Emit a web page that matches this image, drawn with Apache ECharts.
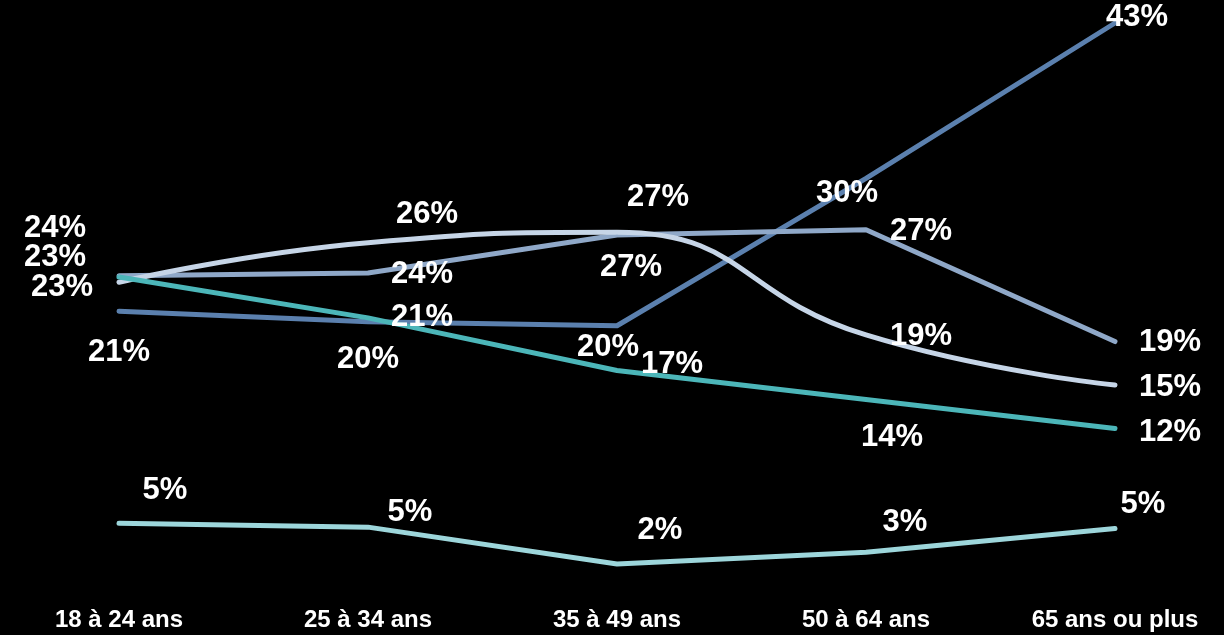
<!DOCTYPE html>
<html>
<head>
<meta charset="utf-8">
<script src="https://cdn.jsdelivr.net/npm/echarts@6/dist/echarts.min.js"></script>
<style>
html, body { margin: 0; padding: 0; background: #000; }
#chart { width: 1224px; height: 635px; }
</style>
</head>
<body>
<div id="chart"></div>
<script>
// catégories d'âge
var categories = ['18 à 24 ans', '25 à 34 ans', '35 à 49 ans', '50 à 64 ans', '65 ans ou plus'];

// valeurs tracées
var serie1 = [21.1, 20.3, 20.0, 31.2, 43.0];
var serie2 = [23.8, 24.0, 26.9, 27.3, 18.8];
var serie3 = [23.3, 26.3, 27.1, 19.3, 15.5];
var serie4 = [23.7, 20.6, 16.6, 14.4, 12.2];
var serie5 = [5.0, 4.7, 1.9, 2.8, 4.6];

// étiquettes affichées
var labels1 = ['21%', '20%', '20%', '30%', '43%'];
var labels2 = ['23%', '24%', '27%', '27%', '19%'];
var labels3 = ['23%', '26%', '27%', '19%', '15%'];
var labels4 = ['24%', '21%', '17%', '14%', '12%'];
var labels5 = ['5%', '5%', '2%', '3%', '5%'];

var chart = echarts.init(document.getElementById('chart'));

function makeSerie(name, values, texts, color, offsets, smooth) {
    return {
        name: name,
        type: 'line',
        smooth: smooth ? 0.5 : false,
        symbol: 'circle',
        symbolSize: 1,
        showSymbol: true,
        lineStyle: { color: color, width: 5, cap: 'round', join: 'round' },
        itemStyle: { color: color },
        label: {
            show: true,
            position: 'inside',
            color: '#fff',
            fontFamily: 'Liberation Sans, Arial, sans-serif',
            fontWeight: 'bold',
            fontSize: 31,
            formatter: function (p) { return texts[p.dataIndex]; }
        },
        data: values.map(function (v, i) {
            return { value: v, label: { offset: offsets[i] } };
        })
    };
}

var option = {
    backgroundColor: '#000',
    animation: false,
    grid: { left: 119, right: 109, top: 23, bottom: 46 },
    xAxis: {
        type: 'category',
        data: categories,
        boundaryGap: false,
        axisLine: { show: false },
        axisTick: { show: false },
        axisLabel: {
            color: '#fff',
            fontFamily: 'Liberation Sans, Arial, sans-serif',
            fontWeight: 'bold',
            fontSize: 24,
            margin: 19
        }
    },
    yAxis: {
        type: 'value',
        min: 0,
        max: 43,
        show: false,
        splitLine: { show: false }
    },
    series: [
        makeSerie('s1', serie1, labels1, '#5b80ae',
            [[0, 41], [0, 38], [-9, 22], [-19, 15], [22, -6]], false),
        makeSerie('s2', serie2, labels2, '#8fa8c8',
            [[-64, -18], [54, 1], [14, 33], [55, 2], [55, 1]], false),
        makeSerie('s3', serie3, labels3, '#c6d5e7',
            [[-57, 5], [59, -28], [41, -35], [55, 1], [55, 2]], true),
        makeSerie('s4', serie4, labels4, '#4cb6b9',
            [[-64, -49], [54, 0], [55, -6], [26, 38], [55, 4]], false),
        makeSerie('s5', serie5, labels5, '#9dd6db',
            [[46, -33], [42, -15], [43, -34], [39, -30], [28, -24]], false)
    ]
};

chart.setOption(option);
</script>
</body>
</html>
